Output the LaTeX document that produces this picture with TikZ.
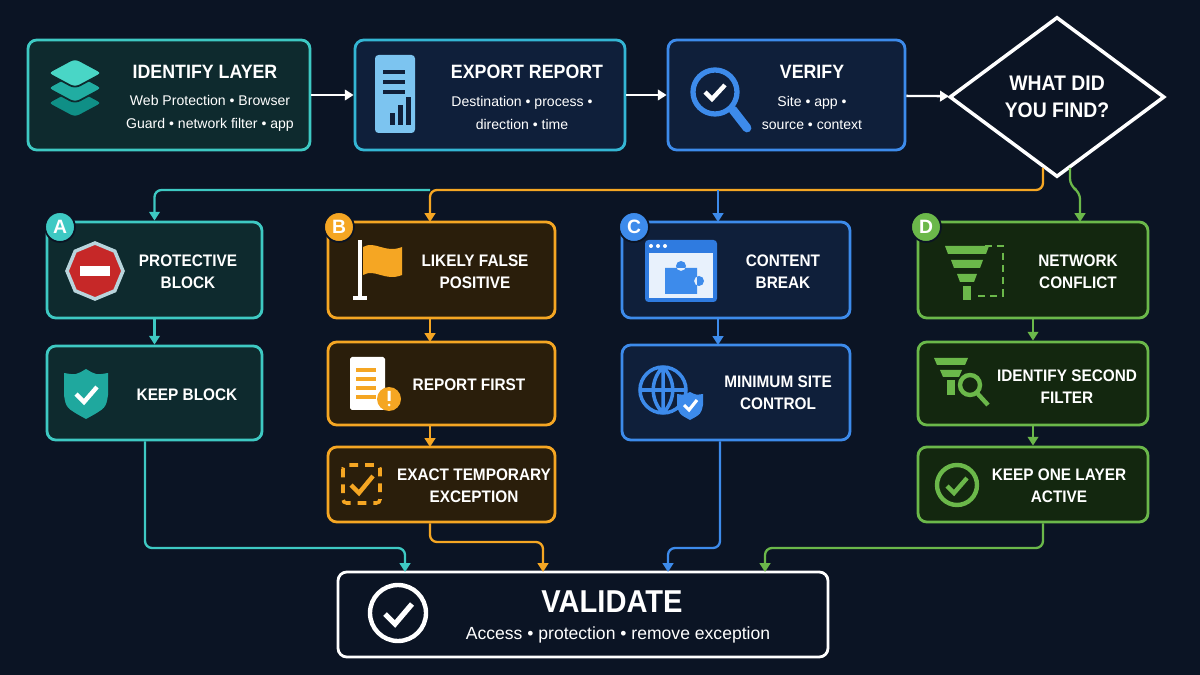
\documentclass[tikz,border=0pt]{standalone}
\usepackage{fontspec}
\setmainfont{Liberation Sans}
\usetikzlibrary{arrows.meta,positioning,shapes.geometric}
\definecolor{bg}{HTML}{0B1424}
\definecolor{cteal}{HTML}{3EC9C3}
\definecolor{ccyan}{HTML}{34B6D4}
\definecolor{cblue}{HTML}{3D8BEB}
\definecolor{corange}{HTML}{F5A623}
\definecolor{cgreen}{HTML}{6BB84A}
\definecolor{fteal}{HTML}{0E2A2E}
\definecolor{fblue}{HTML}{0F1F3A}
\definecolor{forange}{HTML}{2A1E0B}
\definecolor{fgreen}{HTML}{13270F}
\definecolor{lay1}{HTML}{0F8F86}
\definecolor{lay2}{HTML}{21ADA2}
\definecolor{lay3}{HTML}{49D6C6}
\definecolor{docblue}{HTML}{7CC4F0}
\definecolor{stopred}{HTML}{C62828}
\definecolor{stoprim}{HTML}{B8D4DC}
\definecolor{winblue}{HTML}{2F7BE0}
\definecolor{winpale}{HTML}{E8F1FC}
\definecolor{shieldteal}{HTML}{1FA89E}
\tikzset{
  box/.style={draw=#1, line width=1.6pt, rounded corners=5pt},
  ttl/.style={text=white, font=\bfseries\fontsize{9.5}{12.5}\selectfont, align=center, xscale=0.92},
  sub/.style={text=white, font=\fontsize{8}{13}\selectfont, align=center},
  flow/.style={-{Triangle[length=5pt,width=6pt]}, line width=1.3pt, rounded corners=4pt},
  badge/.style={circle, fill=#1, draw=bg, line width=1pt, minimum size=17pt, inner sep=0pt,
    text=white, font=\bfseries\fontsize{11}{11}\selectfont},
}
\begin{document}
\begin{tikzpicture}[x=0.02cm, y=-0.02cm]
\fill[bg] (0,0) rectangle (1200,675);

% top row
\node[box=cteal, fill=fteal, minimum width=282*0.02cm, minimum height=110*0.02cm] (layer) at (169,95) {};
\node[box=ccyan, fill=fblue, minimum width=270*0.02cm, minimum height=110*0.02cm] (export) at (490,95) {};
\node[box=cblue, fill=fblue, minimum width=237*0.02cm, minimum height=110*0.02cm] (verify) at (786.5,95) {};
\node[diamond, draw=white, line width=2pt, fill=bg, minimum width=215*0.02cm, minimum height=160*0.02cm,
  aspect=1.34, inner sep=0pt] (find) at (1057,97) {};
\node[ttl, font=\bfseries\fontsize{12}{15}\selectfont] at (find) {WHAT DID\\YOU FIND?};

\node[ttl, font=\bfseries\fontsize{11}{13}\selectfont] (layert) at (205,72) {IDENTIFY LAYER};
\node[sub] at (210,113) {Web Protection • Browser\\Guard • network filter • app};
\node[ttl, font=\bfseries\fontsize{11}{13}\selectfont] (exportt) at (527,72) {EXPORT REPORT};
\node[sub] at (522,113) {Destination • process •\\direction • time};
\node[ttl, font=\bfseries\fontsize{11}{13}\selectfont] (verifyt) at (812,72) {VERIFY};
\node[sub] at (812,113) {Site • app •\\source • context};

% layers icon
\foreach \dy/\c in {30/lay1,15/lay2,0/lay3} {
  \fill[\c, draw=fteal, line width=1pt, rounded corners=3pt] (75,{58+\dy}) -- (103,{73+\dy}) -- (75,{88+\dy}) -- (47,{73+\dy}) -- cycle;
}
% document icon
\fill[docblue, rounded corners=2pt] (375,55) rectangle (415,133);
\foreach \yy in {70,80,90} \fill[fblue] (383,\yy) rectangle (405,{\yy+4});
\foreach \xx/\hh in {390/12,398/20,406/28} \fill[fblue] (\xx,125) rectangle ({\xx+5},{125-\hh});
% magnifier icon
\draw[cblue, line width=5pt, line cap=round] (733,110) -- (747,128);
\draw[cblue, line width=3pt, fill=fblue] (715,92) circle (22);
\draw[white, line width=2.5pt] (705,92) -- (712,99) -- (725,85);

\draw[flow, white] (layer) -- (export);
\draw[flow, white] (export) -- (verify);
\draw[flow, white] (verify) -- (find);

% row two
\node[box=cteal, fill=fteal, minimum width=215*0.02cm, minimum height=96*0.02cm] (protect) at (154.5,270) {};
\node[box=corange, fill=forange, minimum width=227*0.02cm, minimum height=96*0.02cm] (false) at (441.5,270) {};
\node[box=cblue, fill=fblue, minimum width=228*0.02cm, minimum height=96*0.02cm] (content) at (736,270) {};
\node[box=cgreen, fill=fgreen, minimum width=230*0.02cm, minimum height=96*0.02cm] (network) at (1033,270) {};
\node[badge=cteal] at (60,227) {A};
\node[badge=corange] at (339,227) {B};
\node[badge=cblue] at (634,227) {C};
\node[badge=cgreen] at (926,227) {D};
\node[ttl] at (188,272) {PROTECTIVE\\BLOCK};
\node[ttl] at (475,272) {LIKELY FALSE\\POSITIVE};
\node[ttl] at (783,272) {CONTENT\\BREAK};
\node[ttl] at (1078,272) {NETWORK\\CONFLICT};

% stop sign
\node[regular polygon, regular polygon sides=8, fill=stopred, draw=stoprim, line width=2pt,
  minimum size=56*0.02cm, rotate=22.5] at (95,271) {};
\fill[white] (80,266) rectangle (110,276);
% flag
\draw[white, line width=2.5pt] (360,240) -- (360,298) (353,298) -- (367,298);
\fill[corange] (363,247) .. controls (375,240) and (385,254) .. (402,247) -- (402,275) .. controls (385,282) and (375,268) .. (363,275) -- cycle;
% puzzle window
\fill[winblue, rounded corners=2pt] (645,240) rectangle (717,302);
\fill[winpale] (649,253) rectangle (713,298);
\fill[cblue] (665,268) rectangle (697,294) (681,266) circle (5) (699,281) circle (5);
\foreach \xx in {651,658,665} \fill[white] (\xx,246) circle (2);
% funnel
\foreach \yy/\w in {246/22,260/16,274/10} \fill[cgreen] ({967-\w},\yy) -- ({967+\w},\yy) -- ({967+\w-3},{\yy+8}) -- ({967-\w+3},{\yy+8}) -- cycle;
\fill[cgreen] (963,286) rectangle (971,300);
\draw[cgreen, line width=1.5pt, dash pattern=on 4pt off 3pt] (985,246) -- (1003,246) -- (1003,296) -- (975,296);

% row three
\node[box=cteal, fill=fteal, minimum width=215*0.02cm, minimum height=94*0.02cm] (keep) at (154.5,393) {};
\node[box=corange, fill=forange, minimum width=227*0.02cm, minimum height=83*0.02cm] (report) at (441.5,383.5) {};
\node[box=corange, fill=forange, minimum width=227*0.02cm, minimum height=75*0.02cm] (exact) at (441.5,484.5) {};
\node[box=cblue, fill=fblue, minimum width=228*0.02cm, minimum height=95*0.02cm] (minimum) at (736,392.5) {};
\node[box=cgreen, fill=fgreen, minimum width=230*0.02cm, minimum height=83*0.02cm] (second) at (1033,383.5) {};
\node[box=cgreen, fill=fgreen, minimum width=230*0.02cm, minimum height=75*0.02cm] (active) at (1033,484.5) {};
\node[ttl] at (187,395) {KEEP BLOCK};
\node[ttl] at (469,385) {REPORT FIRST};
\node[ttl] at (474,486) {EXACT TEMPORARY\\EXCEPTION};
\node[ttl] at (778,393) {MINIMUM SITE\\CONTROL};
\node[ttl] at (1067,387) {IDENTIFY SECOND\\FILTER};
\node[ttl] at (1059,486) {KEEP ONE LAYER\\ACTIVE};

% shield
\fill[shieldteal] (86,369) .. controls (96,375) .. (108,373) -- (108,395) .. controls (106,408) .. (86,419) .. controls (66,408) .. (64,395) -- (64,373) .. controls (76,375) .. (86,369) -- cycle;
\draw[white, line width=2.5pt] (76,394) -- (84,402) -- (97,387);
% report doc
\fill[white, rounded corners=1pt] (350,357) rectangle (385,410);
\foreach \yy in {370,379,388,397} \draw[corange, line width=2pt] (356,\yy) -- (376,\yy);
\fill[corange] (389,399) circle (12);
\fill[white] (387.5,391) rectangle (390.5,401) (389,405) circle (1.5);
% dashed check
\draw[corange, line width=2pt, dash pattern=on 5pt off 4pt, rounded corners=2pt] (343,465) rectangle (380,503);
\draw[corange, line width=2.5pt] (351,485) -- (359,493) -- (373,476);
% globe with shield
\draw[cblue, line width=2pt] (663,390) circle (23) (663,367) -- (663,413) (640,390) -- (686,390)
  (663,367) .. controls (650,380) and (650,400) .. (663,413) (663,367) .. controls (676,380) and (676,400) .. (663,413);
\fill[cblue] (690,392) .. controls (696,395) .. (703,394) -- (703,405) .. controls (701,414) .. (690,420) .. controls (679,414) .. (677,405) -- (677,394) .. controls (684,395) .. (690,392) -- cycle;
\draw[white, line width=1.8pt] (684,405) -- (689,410) -- (697,400);
% funnel + magnifier
\foreach \yy/\w in {358/17,370/11} \fill[cgreen] ({951-\w},\yy) -- ({951+\w},\yy) -- ({951+\w-3},{\yy+7}) -- ({951-\w+3},{\yy+7}) -- cycle;
\fill[cgreen] (947,380) rectangle (955,395);
\draw[cgreen, line width=2.5pt] (970,385) circle (10) (977,393) -- (988,405);
% circle check
\draw[cgreen, line width=2.5pt] (957,485) circle (20);
\draw[cgreen, line width=2.5pt] (947,486) -- (954,493) -- (967,478);

% validate
\node[box=white, fill=bg, minimum width=490*0.02cm, minimum height=85*0.02cm] (validate) at (583,614.5) {};
\node[ttl, font=\bfseries\fontsize{18}{20}\selectfont] at (612,602) {VALIDATE};
\node[sub, font=\fontsize{10}{12}\selectfont] at (618,635) {Access • protection • remove exception};
\draw[white, line width=2.5pt] (398,613) circle (28);
\draw[white, line width=3pt] (385,614) -- (395,624) -- (412,604);

% connectors
\draw[flow, corange] (1043,168) |- (430,190) -- (430,222);
\draw[flow, cteal] (430,190) -| (protect.north);
\draw[flow, cblue] (718,190) -- (718,222);
\draw[flow, cgreen] (1070,168) -- (1070,186) -- (1080,192) -- (1080,222);
\draw[flow, cteal] (protect) -- (keep);
\draw[flow, corange] (430,318) -- (430,342);
\draw[flow, corange] (430,425) -- (430,447);
\draw[flow, cblue] (content.south -| 718,0) -- (718,345);
\draw[flow, cgreen] (network) -- (second);
\draw[flow, cgreen] (second) -- (active);
\draw[flow, cteal] (keep.south -| 145,0) |- (405,548) -- (405,572);
\draw[flow, corange] (exact.south -| 430,0) |- (543,542) -- (543,572);
\draw[flow, cblue] (minimum.south -| 720,0) |- (668,548) -- (668,572);
\draw[flow, cgreen] (active.south -| 1043,0) |- (765,548) -- (765,572);
\end{tikzpicture}
\end{document}
